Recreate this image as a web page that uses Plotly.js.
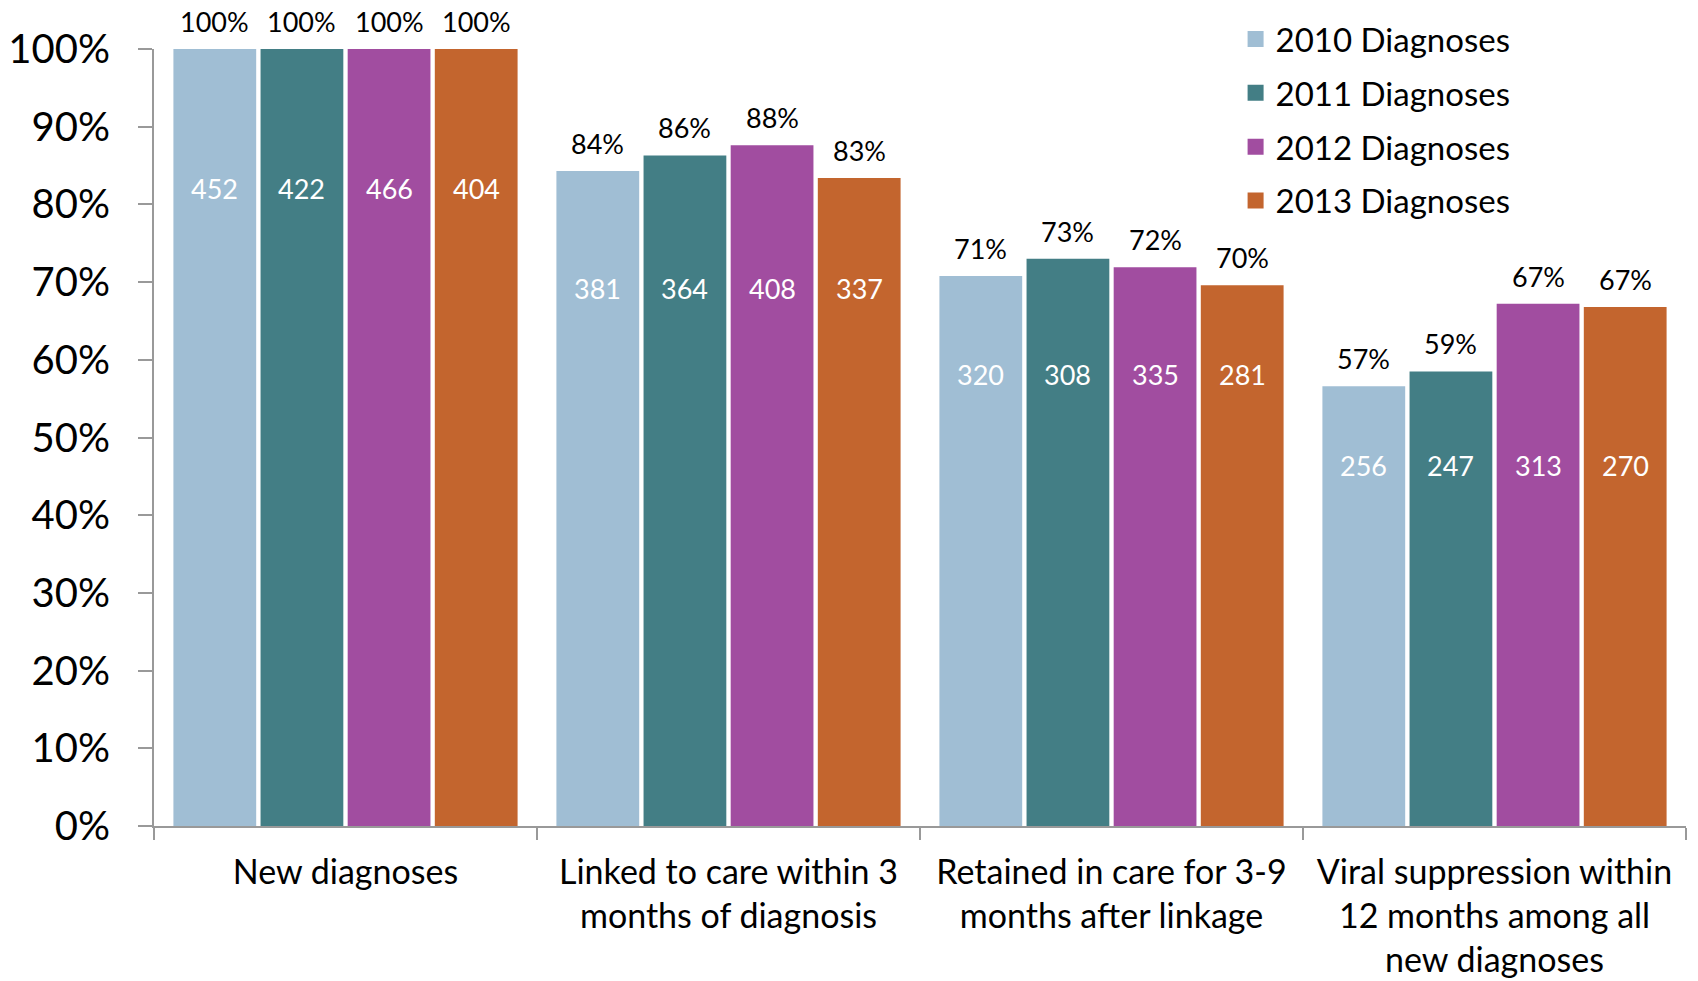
<!DOCTYPE html>
<html>
<head>
<meta charset="utf-8">
<script src="https://cdn.plot.ly/plotly-3.0.1.min.js"></script>
<style>html,body{margin:0;padding:0;background:#fff}#chart{width:1698px;height:981px}</style>
</head>
<body>
<div id="chart"></div>
<script>
const categories = [
  "New diagnoses",
  "Linked to care within 3<br>months of diagnosis",
  "Retained in care for 3-9<br>months after linkage",
  "Viral suppression within<br>12 months among all<br>new diagnoses"
];
const seriesNames = ["2010 Diagnoses", "2011 Diagnoses", "2012 Diagnoses", "2013 Diagnoses"];
const pct2010 = [100, 84.3, 70.8, 56.6];
const pct2011 = [100, 86.3, 73.0, 58.5];
const pct2012 = [100, 87.6, 71.9, 67.2];
const pct2013 = [100, 83.4, 69.6, 66.8];
const pctLabels2010 = ["100%", "84%", "71%", "57%"];
const pctLabels2011 = ["100%", "86%", "73%", "59%"];
const pctLabels2012 = ["100%", "88%", "72%", "67%"];
const pctLabels2013 = ["100%", "83%", "70%", "67%"];
const counts2010 = [452, 381, 320, 256];
const counts2011 = [422, 364, 308, 247];
const counts2012 = [466, 408, 335, 313];
const counts2013 = [404, 337, 281, 270];
const yTicks = [0, 10, 20, 30, 40, 50, 60, 70, 80, 90, 100];

const colors = ["#A0BED4", "#437E85", "#A14DA0", "#C3652E"];
const FONT = "Lato, 'Open Sans', sans-serif";
const pcts = [pct2010, pct2011, pct2012, pct2013];
const pctLabels = [pctLabels2010, pctLabels2011, pctLabels2012, pctLabels2013];
const counts = [counts2010, counts2011, counts2012, counts2013];

const bargap = 0.09;
const groupW = 1 - bargap;
const slot = groupW / 4;

const traces = seriesNames.map((name, j) => ({
  type: "bar",
  name: name,
  x: categories,
  y: pcts[j],
  marker: {color: colors[j]},
  showlegend: false,
  hoverinfo: "skip"
}));

// legend entries (no data drawn), for larger square swatches
seriesNames.forEach((name, j) => {
  traces.push({
    type: "scatter",
    mode: "markers",
    name: name,
    legendgroup: "g" + j,
    x: [null], y: [null],
    marker: {symbol: "square", size: 20, color: colors[j]},
    showlegend: true,
    hoverinfo: "skip"
  });
});

const annotations = [];
counts.forEach((arr, j) => {
  arr.forEach((v, i) => {
    const xc = i - groupW / 2 + slot * (j + 0.5);
    annotations.push({
      x: xc, y: pct2010[i] * 0.82,
      xref: "x", yref: "y",
      text: String(v),
      showarrow: false,
      font: {family: FONT, size: 27, color: "#fff"}
    });
    annotations.push({
      x: xc, y: pcts[j][i],
      xref: "x", yref: "y",
      yanchor: "bottom", yshift: 9,
      text: pctLabels[j][i],
      showarrow: false,
      font: {family: FONT, size: 27, color: "#000"}
    });
  });
});

const layout = {
  width: 1698, height: 981,
  margin: {l: 154, r: 12, t: 49, b: 155, autoexpand: false},
  paper_bgcolor: "#fff", plot_bgcolor: "#fff",
  barmode: "group",
  bargap: bargap,
  bargroupgap: 0.05,
  showlegend: true,
  legend: {
    x: 0.706, y: 1.049, xanchor: "left", yanchor: "top",
    font: {family: FONT, size: 33, color: "#000"},
    tracegroupgap: 8,
    itemwidth: 30,
    bgcolor: "rgba(0,0,0,0)"
  },
  xaxis: {
    type: "category",
    range: [-0.5, 3.5],
    tickson: "boundaries",
    ticks: "outside", ticklen: 12, tickcolor: "#999", tickwidth: 2,
    showline: true, linecolor: "#999", linewidth: 2,
    showgrid: false, zeroline: false,
    tickfont: {family: FONT, size: 34, color: "#000"},
    ticklabelstandoff: 15
  },
  yaxis: {
    range: [0, 100],
    tickmode: "array",
    tickvals: yTicks,
    ticktext: yTicks.map(v => v + "%"),
    ticks: "outside", ticklen: 14, tickcolor: "#999", tickwidth: 2,
    showline: true, linecolor: "#999", linewidth: 2,
    showgrid: false, zeroline: false,
    tickfont: {family: FONT, size: 40, color: "#000"},
    ticklabelstandoff: 20
  },
  annotations: annotations,
  font: {family: FONT}
};

Plotly.newPlot("chart", traces, layout, {displayModeBar: false, staticPlot: true});
</script>
</body>
</html>
